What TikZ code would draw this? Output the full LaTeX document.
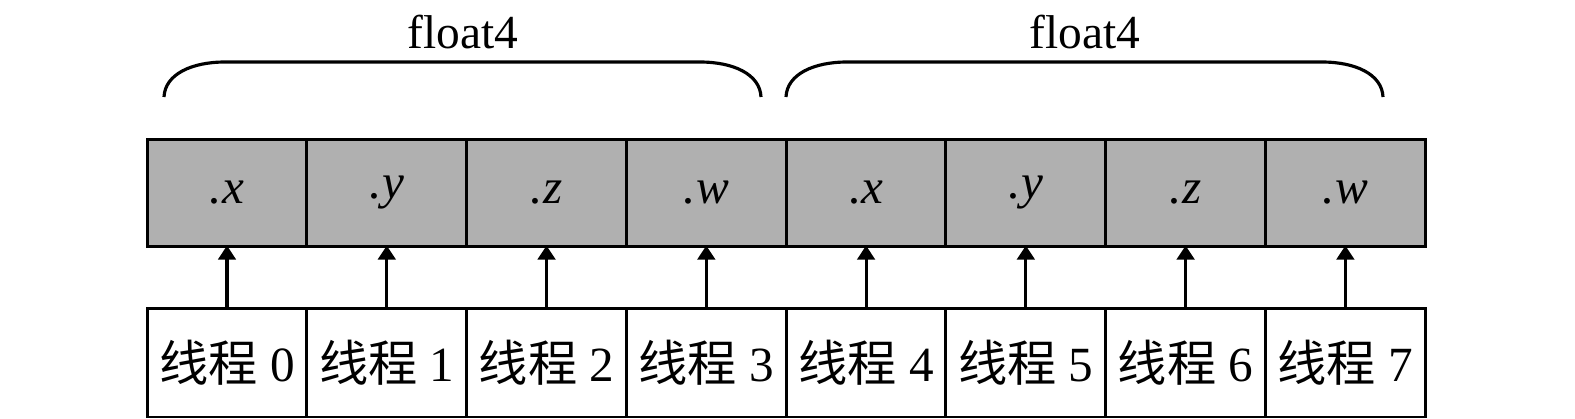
\documentclass[tikz,border=0pt]{standalone}
\usepackage{fontspec}
\setmainfont{Liberation Serif}
\newfontfamily\cjk{Noto Sans CJK SC}
\usepackage{xcolor}
\usetikzlibrary{arrows.meta, positioning, calc}
\definecolor{cellgray}{RGB}{176,176,176}

\begin{document}
\begin{tikzpicture}[x=0.02cm, y=-0.02cm,
  comp/.style={draw, line width=1.7pt, fill=cellgray, minimum width=3.196cm, minimum height=2.16cm,
    inner sep=0pt, outer sep=0pt, font=\fontsize{28}{30}\selectfont\itshape},
  thread/.style={draw, line width=1.7pt, fill=white, minimum width=3.196cm, minimum height=2.18cm,
    inner sep=0pt, outer sep=0pt, font=\fontsize{28}{30}\selectfont},
  arr/.style={-{Triangle[length=8pt,width=10pt]}, line width=1.8pt, shorten >=-0.8pt},
  brace/.style={line width=1.8pt}]
\useasboundingbox (0,0) rectangle (1575,419);

% float4 components
\node[comp] (c0) at (227,193) {.x};
\foreach \i/\j/\t in {1/0/y, 2/1/z, 3/2/w, 4/3/x, 5/4/y, 6/5/z, 7/6/w}
  \node[comp, right=0pt of c\j] (c\i) {.\t};

% threads
\node[thread] (t0) at (227,362.5) {{\cjk 线程} 0};
\foreach \i [count=\j from 0] in {1,...,7}
  \node[thread, right=0pt of t\j] (t\i) {{\cjk 线程} \i};

% each thread reads one component
\foreach \i in {0,...,7}
  \draw[arr] (t\i.north) -- (c\i.south);

% braces
\draw[brace] (164,97) .. controls (165,74) and (192,62) .. (225,62) -- (700,62)
  .. controls (733,62) and (760,74) .. (761,97);
\draw[brace] (786,97) .. controls (787,74) and (814,62) .. (847,62) -- (1322,62)
  .. controls (1355,62) and (1382,74) .. (1383,97);
\node[font=\fontsize{27}{30}\selectfont] (lab0) at (463,32) {float4};
\node[font=\fontsize{27}{30}\selectfont] (lab1) at (1085,32) {float4};
\end{tikzpicture}
\end{document}
